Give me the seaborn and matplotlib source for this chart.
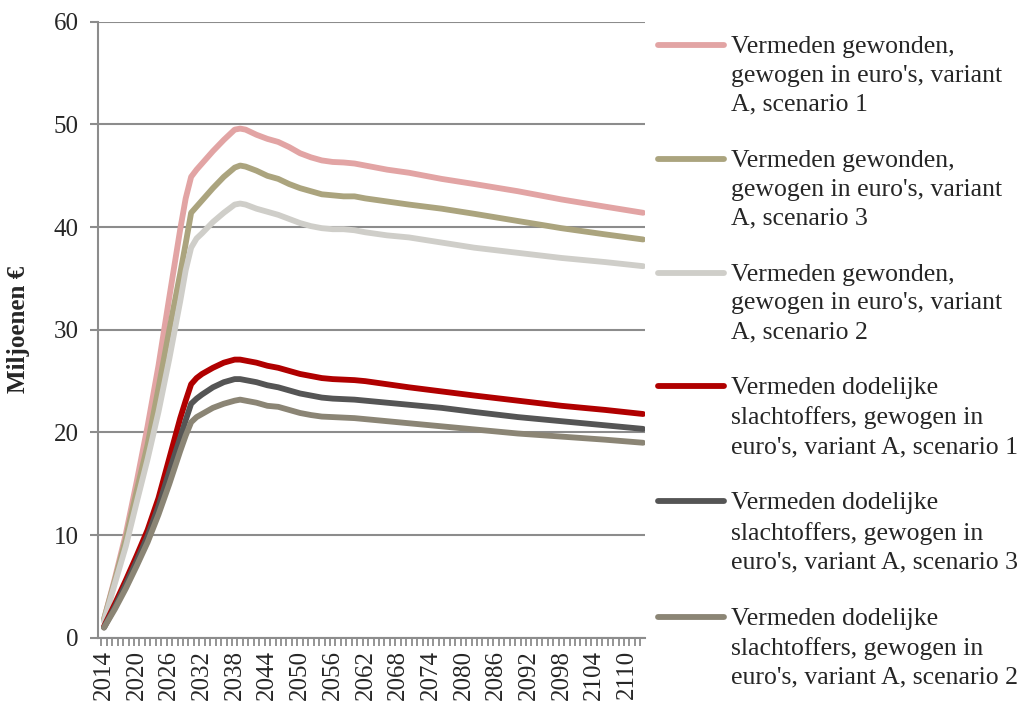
import numpy as np
import pandas as pd
import matplotlib
matplotlib.use("Agg")
import matplotlib.pyplot as plt
from matplotlib.lines import Line2D
from matplotlib.ticker import FixedLocator
import seaborn as sns

# years (points where the curves bend)
years = [2014, 2016, 2018, 2020, 2022, 2024, 2026, 2028, 2029, 2030, 2031, 2032,
         2034, 2036, 2038, 2039, 2040, 2042, 2044, 2046, 2048, 2050, 2052, 2054,
         2056, 2058, 2060, 2062, 2066, 2070, 2076, 2082, 2090, 2098, 2106, 2113]

gewonden_s1 = [1.8, 5.8, 10.1, 15.2, 20.6, 26.5, 33.2, 39.8, 42.8, 44.9, 45.6, 46.2,
               47.4, 48.5, 49.5, 49.6, 49.5, 49.0, 48.6, 48.3, 47.8, 47.2, 46.8, 46.5,
               46.35, 46.3, 46.2, 46.0, 45.6, 45.3, 44.7, 44.2, 43.5, 42.7, 42.0, 41.4]
gewonden_s3 = [1.8, 5.6, 9.6, 14.3, 18.8, 24.3, 30.0, 35.5, 38.4, 41.4, 42.0, 42.6,
               43.8, 44.9, 45.8, 46.0, 45.9, 45.5, 45.0, 44.7, 44.2, 43.8, 43.5, 43.2,
               43.1, 43.0, 43.0, 42.8, 42.5, 42.2, 41.8, 41.3, 40.6, 39.9, 39.3, 38.8]
gewonden_s2 = [1.6, 5.3, 8.9, 13.2, 17.4, 22.0, 27.2, 32.8, 35.8, 38.0, 38.9, 39.4,
               40.5, 41.4, 42.2, 42.3, 42.2, 41.8, 41.5, 41.2, 40.8, 40.4, 40.1, 39.9,
               39.8, 39.8, 39.7, 39.5, 39.2, 39.0, 38.5, 38.0, 37.5, 37.0, 36.6, 36.2]
doden_s1 = [1.1, 3.3, 5.6, 8.0, 10.5, 13.6, 17.5, 21.4, 23.1, 24.7, 25.3, 25.7,
            26.3, 26.8, 27.1, 27.1, 27.0, 26.8, 26.5, 26.3, 26.0, 25.7, 25.5, 25.3,
            25.2, 25.15, 25.1, 25.0, 24.7, 24.4, 24.0, 23.6, 23.1, 22.6, 22.2, 21.8]
doden_s3 = [1.0, 3.0, 5.2, 7.5, 9.9, 12.8, 16.2, 19.5, 21.2, 22.8, 23.3, 23.7,
            24.4, 24.9, 25.2, 25.2, 25.1, 24.9, 24.6, 24.4, 24.1, 23.8, 23.6, 23.4,
            23.3, 23.25, 23.2, 23.1, 22.9, 22.7, 22.4, 22.0, 21.5, 21.1, 20.7, 20.35]
doden_s2 = [1.0, 2.8, 4.8, 7.0, 9.3, 12.0, 15.0, 18.2, 19.7, 21.0, 21.5, 21.8,
            22.4, 22.8, 23.1, 23.2, 23.1, 22.9, 22.6, 22.5, 22.2, 21.9, 21.7, 21.55,
            21.5, 21.45, 21.4, 21.3, 21.1, 20.9, 20.6, 20.3, 19.9, 19.6, 19.3, 19.0]

labels = [
    "Vermeden gewonden,\ngewogen in euro's, variant\nA, scenario 1",
    "Vermeden gewonden,\ngewogen in euro's, variant\nA, scenario 3",
    "Vermeden gewonden,\ngewogen in euro's, variant\nA, scenario 2",
    "Vermeden dodelijke\nslachtoffers, gewogen in\neuro's, variant A, scenario 1",
    "Vermeden dodelijke\nslachtoffers, gewogen in\neuro's, variant A, scenario 3",
    "Vermeden dodelijke\nslachtoffers, gewogen in\neuro's, variant A, scenario 2",
]
colors = ["#E2A4A4", "#ABA47E", "#CFCEC9", "#B00000", "#555555", "#8B8575"]

series = [gewonden_s1, gewonden_s3, gewonden_s2, doden_s1, doden_s3, doden_s2]
df = pd.concat([pd.DataFrame({"jaar": years, "waarde": s, "reeks": lab})
                for s, lab in zip(series, labels)], ignore_index=True)

sns.set_style("white")
plt.rcParams['font.family'] = ['Liberation Serif', 'DejaVu Serif']
grid_col = "#8C8C8C"

fig = plt.figure(figsize=(10.21, 7.04), dpi=100)
ax = fig.add_axes([0.096, 0.094, 0.536, 0.875])

sns.lineplot(data=df, x="jaar", y="waarde", hue="reeks", hue_order=labels,
             palette=dict(zip(labels, colors)), linewidth=4.2, sort=False,
             legend=False, ax=ax, solid_capstyle="round", solid_joinstyle="round")

ax.set_xlim(2012.9, 2113.4)
ax.set_ylim(0, 60)
ax.set_xticks(range(2014, 2111, 6))
ax.set_xticklabels([str(y) for y in range(2014, 2111, 6)], rotation=90)
ax.xaxis.set_minor_locator(FixedLocator(np.arange(2013.5, 2114, 1)))
ax.set_yticks(range(0, 61, 10))
ax.tick_params(axis="x", which="major", length=0, pad=9, labelsize=18)
ax.tick_params(axis="x", which="minor", length=6, width=1.3, color=grid_col, direction="out", bottom=True)
ax.tick_params(axis="y", length=6, width=1.5, color=grid_col, direction="out", labelsize=18, pad=8, left=True)

ax.yaxis.grid(True, color=grid_col, lw=1.5)
ax.xaxis.grid(False)
ax.set_axisbelow(True)
for side in ["top", "right"]:
    ax.spines[side].set_visible(False)
for side in ["left", "bottom"]:
    ax.spines[side].set_color(grid_col)
    ax.spines[side].set_linewidth(1.5)

ax.set_xlabel("")
ax.set_ylabel("Miljoenen €", fontsize=18, fontweight="bold")
ax.yaxis.set_label_coords(-0.124, 0.5)

handles = [Line2D([0], [0], color=c, lw=4.2, solid_capstyle="round") for c in colors]
leg = fig.legend(handles, labels, loc="upper left", bbox_to_anchor=(658 / 1021, 1 - 36 / 704),
                 frameon=False, fontsize=18.5, handlelength=2.55, handletextpad=0.28,
                 labelspacing=1.33, borderpad=0, borderaxespad=0)
for t in leg.get_texts():
    t.set_linespacing(1.40)
# put the line next to the first text row, like the original
for col in leg._legend_handle_box.get_children():
    for item in col.get_children():
        item.align = "top"

fig.savefig("out.png", dpi=100)
